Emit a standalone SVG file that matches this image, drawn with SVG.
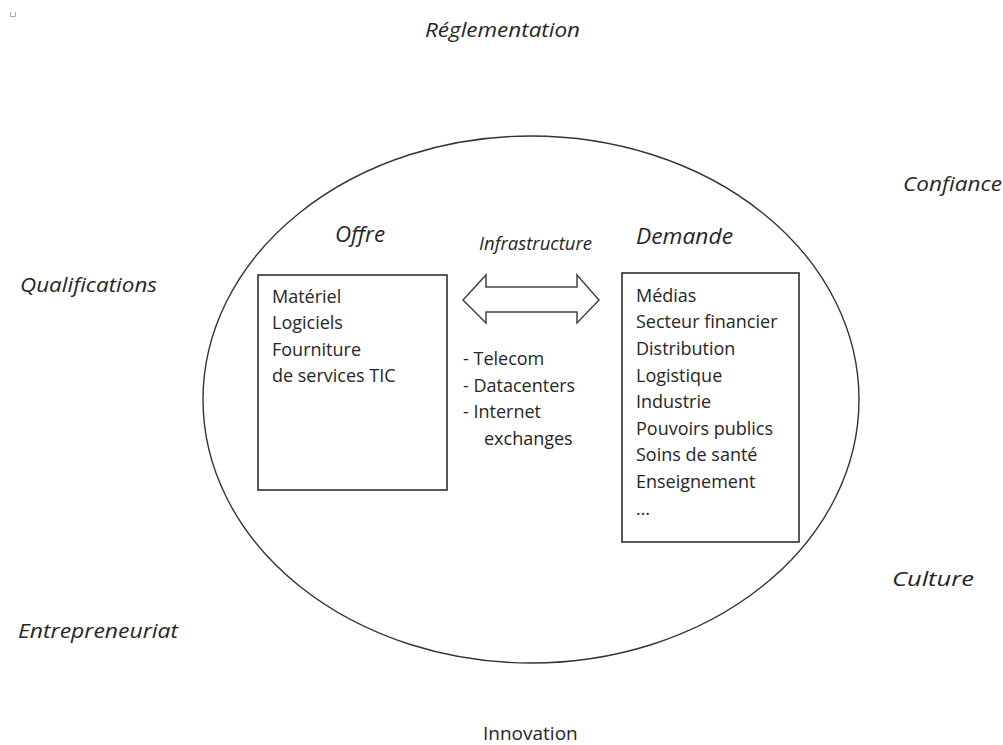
<svg xmlns="http://www.w3.org/2000/svg" width="1003" height="745" viewBox="0 0 1003 745">
<style>
text{font-family:"Open Sans","Noto Sans",sans-serif;fill:#262626}
.out{font-size:20.5px;font-style:italic}
.head{font-size:21px;font-style:italic}
.inf{font-size:17.5px;font-style:italic}
.item{font-size:18px}
.box{fill:#fff;stroke:#222;stroke-width:1.5}
</style>
<rect width="1003" height="745" fill="#fff"/>
<polyline points="10.5,12 10.5,16.5 15.5,16.5 15.5,12" fill="none" stroke="#aaa" stroke-width="1"/>
<g id="ellipse">
<ellipse cx="531" cy="399.5" rx="328" ry="263.5" fill="none" stroke="#333" stroke-width="1.4"/>
</g>
<g id="context">
<text class="out" x="425" y="37" textLength="155" lengthAdjust="spacingAndGlyphs">Réglementation</text>
<text class="out" x="903" y="191" textLength="99" lengthAdjust="spacingAndGlyphs">Confiance</text>
<text class="out" x="20" y="292" textLength="137" lengthAdjust="spacingAndGlyphs">Qualifications</text>
<text class="out" x="892" y="586" textLength="82" lengthAdjust="spacingAndGlyphs">Culture</text>
<text class="out" x="18" y="638" textLength="160" lengthAdjust="spacingAndGlyphs">Entrepreneuriat</text>
<text class="out" x="483" y="740" style="font-style:normal;font-size:19px">Innovation</text>
</g>
<g id="offre">
<text class="head" x="335" y="242" textLength="50" lengthAdjust="spacingAndGlyphs">Offre</text>
<rect class="box" x="258" y="275" width="189" height="215"/>
<text class="item" x="272" y="303">Matériel</text>
<text class="item" x="272" y="329">Logiciels</text>
<text class="item" x="272" y="356">Fourniture</text>
<text class="item" x="272" y="382">de services TIC</text>
</g>
<g id="demande">
<text class="head" x="636" y="244" textLength="97" lengthAdjust="spacingAndGlyphs">Demande</text>
<rect class="box" x="622" y="273" width="177" height="269"/>
<text class="item" x="636" y="302">Médias</text>
<text class="item" x="636" y="328">Secteur financier</text>
<text class="item" x="636" y="355">Distribution</text>
<text class="item" x="636" y="382">Logistique</text>
<text class="item" x="636" y="408">Industrie</text>
<text class="item" x="636" y="435">Pouvoirs publics</text>
<text class="item" x="636" y="461">Soins de santé</text>
<text class="item" x="636" y="488">Enseignement</text>
<text class="item" x="636" y="515">…</text>
</g>
<g id="infrastructure">
<text class="inf" x="479" y="250" textLength="113" lengthAdjust="spacingAndGlyphs">Infrastructure</text>
<text class="item" x="463" y="365">- Telecom</text>
<text class="item" x="463" y="392">- Datacenters</text>
<text class="item" x="463" y="418">- Internet</text>
<text class="item" x="484" y="445">exchanges</text>
</g>
<g id="connectors">
<polygon points="463,300 486,275 486,287 577,287 577,275 599,300 577,323 577,312 486,312 486,323" fill="#fff" stroke="#444" stroke-width="1.5" stroke-linejoin="miter"/>
</g>
</svg>
